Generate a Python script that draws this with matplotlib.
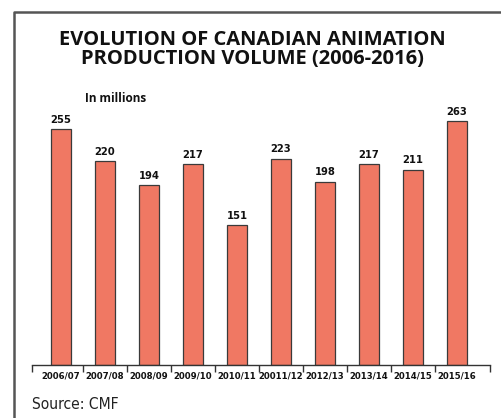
import matplotlib
matplotlib.use("Agg")
import matplotlib.pyplot as plt
from matplotlib import font_manager as fm
from matplotlib.font_manager import FontProperties
from matplotlib.lines import Line2D

categories = ["2006/07", "2007/08", "2008/09", "2009/10", "2010/11",
              "20011/12", "2012/13", "2013/14", "2014/15", "2015/16"]
values = [255, 220, 194, 217, 151, 223, 198, 217, 211, 263]
title_lines = ["EVOLUTION OF CANADIAN ANIMATION", "PRODUCTION VOLUME (2006-2016)"]
unit_label = "In millions"
source = "Source: CMF"

names = {f.name for f in fm.fontManager.ttflist}
head = "Open Sans" if "Open Sans" in names else "DejaVu Sans"


def is_narrow(f):
    tag = (f.name + " " + f.fname).lower()
    return ("narrow" in tag or "condensed" in tag or str(f.stretch) in
            ("condensed", "semi-condensed", "extra-condensed")) and "semi" not in tag and "extra" not in tag


def wnum(w):
    if isinstance(w, int):
        return w
    return {"normal": 400, "regular": 400, "book": 400, "medium": 500,
            "semibold": 600, "demibold": 600, "bold": 700, "heavy": 800,
            "black": 900, "light": 300}.get(str(w).lower(), 400)


cands = [f for f in fm.fontManager.ttflist if is_narrow(f) and f.style == "normal"]


def pick(target):
    best = None
    for f in cands:
        d = abs(wnum(f.weight) - target)
        if best is None or d < best[0]:
            best = (d, f)
    if best is not None and best[0] <= 100:
        return best[1].fname
    return None


bold_file = pick(700)
reg_file = pick(400)
if bold_file:
    def nb(size):
        return FontProperties(fname=bold_file, size=size)
else:
    def nb(size):
        return FontProperties(family="Roboto", weight="bold", size=size * 0.84)
if reg_file:
    def nr(size):
        return FontProperties(fname=reg_file, size=size)
else:
    def nr(size):
        return FontProperties(family="Roboto", size=size * 0.9)

W, H = 501, 418
fig = plt.figure(figsize=(W / 100, H / 100), dpi=100)
fig.patch.set_facecolor("white")


def px(x, y):
    return x / W, 1 - y / H


# frame (top and left)
fig.add_artist(Line2D([14 / W, 14 / W, 1.0], [0.0, 1 - 12 / H, 1 - 12 / H],
                      transform=fig.transFigure, color="#555555", lw=1.8))

# axes: left 32px, right 490px, baseline 365px, top 100px
ax_l, ax_r, ax_b, ax_t = 32, 490, 365, 100
ax = fig.add_axes([ax_l / W, 1 - ax_b / H, (ax_r - ax_l) / W, (ax_b - ax_t) / H])
ax.set_facecolor("none")

xs = list(range(len(categories)))
bars = ax.bar(xs, values, width=0.45, color="#F07863", edgecolor="#3a3a3a", linewidth=0.9)
ax.bar_label(bars, labels=[str(v) for v in values], padding=3,
             fontproperties=nb(8), color="#111111")

ax.set_xlim(-29 / 44, 429 / 44)
ax.set_ylim(0, (ax_b - ax_t) / 0.926)

for s in ["top", "right", "left"]:
    ax.spines[s].set_visible(False)
ax.spines["bottom"].set_color("#333333")
ax.spines["bottom"].set_linewidth(1.0)
ax.set_yticks([])

ax.set_xticks(xs)
ax.set_xticklabels(categories, fontproperties=nb(6.8), color="#111111")
ax.tick_params(axis="x", which="major", length=0, pad=5)
lo, hi = ax.get_xlim()
bounds = [lo] + [i + 0.5 for i in range(len(categories) - 1)] + [hi]
ax.set_xticks(bounds, minor=True)
ax.tick_params(axis="x", which="minor", length=5, width=1.0, color="#333333", direction="out")

# title
for i, line in enumerate(title_lines):
    x, y = px(252, 44.7 + i * 19.5)
    fig.text(x, y, line, ha="center", va="baseline", fontsize=14.5, fontweight="bold",
             family=head, color="#111111")

x, y = px(85, 101.7)
fig.text(x, y, unit_label, ha="left", va="baseline", fontsize=8.5, fontweight="bold",
         family=head, color="#111111")

x, y = px(32, 409)
fig.text(x, y, source, ha="left", va="baseline", fontproperties=nr(11.2), color="#222222")

fig.savefig("out.png", dpi=100, facecolor="white")
